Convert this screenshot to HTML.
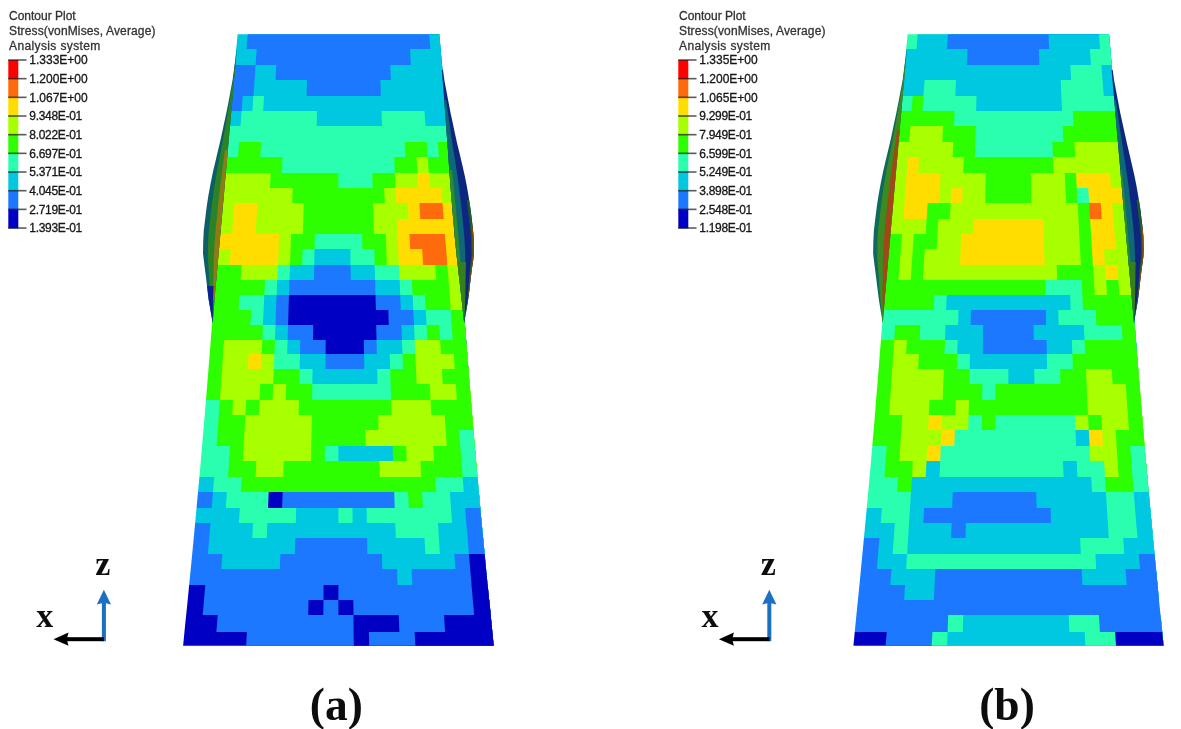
<!DOCTYPE html>
<html><head><meta charset="utf-8"><title>Contour Plot</title>
<style>
html,body{margin:0;padding:0;background:#fff;}
body{width:1181px;height:729px;overflow:hidden;position:relative;}
svg{position:absolute;left:0;top:0;}
.tt{font-family:"Liberation Sans",Arial,sans-serif;font-size:12px;fill:#333;stroke:#333;stroke-width:0.3px;}
.lg{font-family:"Liberation Sans",Arial,sans-serif;font-size:12px;fill:#151515;stroke:#151515;stroke-width:0.3px;}
.ax{font-family:"Liberation Serif","Times New Roman",serif;font-weight:bold;font-size:34px;fill:#111;}
.cap{font-family:"Liberation Serif","Times New Roman",serif;font-weight:bold;font-size:45.5px;fill:#111;}
polygon{stroke-width:0.6;stroke-linejoin:miter;}
.ns polygon,.ns path{stroke:none;}
</style></head><body>
<svg width="1181" height="729" viewBox="0 0 1181 729">
<defs><filter id="bl" x="-2%" y="-2%" width="104%" height="104%"><feGaussianBlur stdDeviation="0.6"/></filter></defs>
<g filter="url(#bl)">
<clipPath id="ca"><polygon points="237.6,34.2 235.8,54.6 234.0,75.0 232.1,95.3 230.3,115.7 228.5,136.1 226.7,156.5 224.9,176.9 223.0,197.3 221.2,217.6 219.4,238.0 217.6,258.4 215.8,278.8 213.9,299.2 212.3,319.6 210.8,339.9 209.2,360.3 207.5,380.7 205.9,401.1 204.2,421.5 202.4,441.9 200.7,462.2 198.9,482.6 197.0,503.0 195.1,523.4 193.2,543.8 191.2,564.2 189.2,584.6 187.2,604.9 185.1,625.3 183.1,645.7 493.7,645.7 491.7,625.3 489.7,604.9 487.6,584.6 485.6,564.2 483.7,543.8 481.7,523.4 479.8,503.0 478.0,482.6 476.2,462.2 474.4,441.9 472.7,421.5 471.0,401.1 469.3,380.7 467.7,360.3 466.1,339.9 464.5,319.6 462.9,299.2 461.1,278.8 459.3,258.4 457.5,238.0 455.7,217.6 453.8,197.3 452.0,176.9 450.2,156.5 448.4,136.1 446.6,115.7 444.8,95.3 442.9,75.0 441.1,54.6 439.3,34.2"/></clipPath><g class="ns" clip-path="url(#ca)"><polygon points="234.7,33.2 442.2,33.2 443.6,49 233.3,49" fill="#00c8e0"/>
<polygon points="247.8,33.2 442.2,33.2 443.6,49 246.5,49" fill="#1a78ff"/>
<polygon points="429.1,33.2 442.2,33.2 443.6,49 430.4,49" fill="#00c8e0"/>
<polygon points="233.3,49 443.6,49 445.0,65 231.8,65" fill="#00c8e0"/>
<polygon points="256.7,49 443.6,49 445.0,65 255.6,65" fill="#1a78ff"/>
<polygon points="410.0,49 443.6,49 445.0,65 410.9,65" fill="#00c8e0"/>
<polygon points="231.8,65 445.0,65 446.4,80 230.5,80" fill="#1a78ff"/>
<polygon points="255.6,65 445.0,65 446.4,80 254.6,80" fill="#00c8e0"/>
<polygon points="276.3,65 445.0,65 446.4,80 275.5,80" fill="#1a78ff"/>
<polygon points="390.2,65 445.0,65 446.4,80 390.9,80" fill="#00c8e0"/>
<polygon points="230.5,80 446.4,80 447.8,96 229.1,96" fill="#1a78ff"/>
<polygon points="254.6,80 446.4,80 447.8,96 253.4,96" fill="#00c8e0"/>
<polygon points="307.0,80 446.4,80 447.8,96 306.6,96" fill="#1a78ff"/>
<polygon points="380.4,80 446.4,80 447.8,96 380.9,96" fill="#00c8e0"/>
<polygon points="229.1,96 447.8,96 449.1,111 227.7,111" fill="#1a78ff"/>
<polygon points="242.8,96 447.8,96 449.1,111 241.6,111" fill="#00c8e0"/>
<polygon points="253.4,96 447.8,96 449.1,111 252.4,111" fill="#2bffb0"/>
<polygon points="264.1,96 447.8,96 449.1,111 263.1,111" fill="#00c8e0"/>
<polygon points="227.7,111 449.1,111 450.5,126 226.4,126" fill="#00c8e0"/>
<polygon points="241.6,111 449.1,111 450.5,126 240.5,126" fill="#2bffb0"/>
<polygon points="316.9,111 449.1,111 450.5,126 316.7,126" fill="#00c8e0"/>
<polygon points="381.5,111 449.1,111 450.5,126 382.0,126" fill="#2bffb0"/>
<polygon points="424.5,111 449.1,111 450.5,126 425.5,126" fill="#00c8e0"/>
<polygon points="226.4,126 450.5,126 451.9,142 225.0,142" fill="#2bffb0"/>
<polygon points="225.0,142 451.9,142 453.2,157 223.6,157" fill="#2bffb0"/>
<polygon points="239.2,142 451.9,142 453.2,157 238.0,157" fill="#2eff00"/>
<polygon points="261.2,142 451.9,142 453.2,157 260.3,157" fill="#2bffb0"/>
<polygon points="404.6,142 451.9,142 453.2,157 405.4,157" fill="#2eff00"/>
<polygon points="426.7,142 451.9,142 453.2,157 427.7,157" fill="#2bffb0"/>
<polygon points="437.7,142 451.9,142 453.2,157 438.9,157" fill="#2eff00"/>
<polygon points="223.6,157 453.2,157 454.7,173 222.2,173" fill="#2eff00"/>
<polygon points="282.6,157 453.2,157 454.7,173 281.9,173" fill="#2bffb0"/>
<polygon points="394.2,157 453.2,157 454.7,173 394.9,173" fill="#2eff00"/>
<polygon points="416.5,157 453.2,157 454.7,173 417.5,173" fill="#a8ff00"/>
<polygon points="427.7,157 453.2,157 454.7,173 428.8,173" fill="#2eff00"/>
<polygon points="222.2,173 454.7,173 456.0,188 220.9,188" fill="#a8ff00"/>
<polygon points="270.7,173 454.7,173 456.0,188 269.9,188" fill="#2eff00"/>
<polygon points="338.4,173 454.7,173 456.0,188 338.4,188" fill="#2bffb0"/>
<polygon points="372.3,173 454.7,173 456.0,188 372.7,188" fill="#2eff00"/>
<polygon points="394.9,173 454.7,173 456.0,188 395.6,188" fill="#a8ff00"/>
<polygon points="417.5,173 454.7,173 456.0,188 418.4,188" fill="#ffdd00"/>
<polygon points="428.8,173 454.7,173 456.0,188 429.9,188" fill="#a8ff00"/>
<polygon points="220.9,188 456.0,188 457.3,203 219.5,203" fill="#a8ff00"/>
<polygon points="292.7,188 456.0,188 457.3,203 292.2,203" fill="#2eff00"/>
<polygon points="384.2,188 456.0,188 457.3,203 384.7,203" fill="#a8ff00"/>
<polygon points="395.6,188 456.0,188 457.3,203 396.2,203" fill="#ffdd00"/>
<polygon points="441.3,188 456.0,188 457.3,203 442.5,203" fill="#a8ff00"/>
<polygon points="219.5,203 457.3,203 458.8,219 218.1,219" fill="#a8ff00"/>
<polygon points="234.4,203 457.3,203 458.8,219 233.1,219" fill="#ffdd00"/>
<polygon points="257.5,203 457.3,203 458.8,219 256.5,219" fill="#a8ff00"/>
<polygon points="303.8,203 457.3,203 458.8,219 303.3,219" fill="#2eff00"/>
<polygon points="373.1,203 457.3,203 458.8,219 373.5,219" fill="#a8ff00"/>
<polygon points="407.8,203 457.3,203 458.8,219 408.6,219" fill="#ffdd00"/>
<polygon points="419.4,203 457.3,203 458.8,219 420.3,219" fill="#ff6a08"/>
<polygon points="442.5,203 457.3,203 458.8,219 443.7,219" fill="#ffdd00"/>
<polygon points="218.1,219 458.8,219 460.1,234 216.8,234" fill="#a8ff00"/>
<polygon points="233.1,219 458.8,219 460.1,234 232.0,234" fill="#ffdd00"/>
<polygon points="256.5,219 458.8,219 460.1,234 255.6,234" fill="#a8ff00"/>
<polygon points="303.3,219 458.8,219 460.1,234 302.9,234" fill="#2eff00"/>
<polygon points="373.5,219 458.8,219 460.1,234 373.9,234" fill="#a8ff00"/>
<polygon points="396.9,219 458.8,219 460.1,234 397.6,234" fill="#ffdd00"/>
<polygon points="216.8,234 460.1,234 461.4,249 215.4,249" fill="#ffdd00"/>
<polygon points="279.3,234 460.1,234 461.4,249 278.6,249" fill="#a8ff00"/>
<polygon points="291.1,234 460.1,234 461.4,249 290.6,249" fill="#2eff00"/>
<polygon points="314.8,234 460.1,234 461.4,249 314.5,249" fill="#2bffb0"/>
<polygon points="362.1,234 460.1,234 461.4,249 362.4,249" fill="#2eff00"/>
<polygon points="385.7,234 460.1,234 461.4,249 386.3,249" fill="#a8ff00"/>
<polygon points="397.6,234 460.1,234 461.4,249 398.2,249" fill="#ffdd00"/>
<polygon points="409.4,234 460.1,234 461.4,249 410.2,249" fill="#ff6a08"/>
<polygon points="444.9,234 460.1,234 461.4,249 446.1,249" fill="#ffdd00"/>
<polygon points="215.4,249 461.4,249 462.9,265 214.0,265" fill="#a8ff00"/>
<polygon points="230.8,249 461.4,249 462.9,265 229.5,265" fill="#ffdd00"/>
<polygon points="278.6,249 461.4,249 462.9,265 277.9,265" fill="#a8ff00"/>
<polygon points="290.6,249 461.4,249 462.9,265 290.0,265" fill="#2eff00"/>
<polygon points="302.6,249 461.4,249 462.9,265 302.1,265" fill="#2bffb0"/>
<polygon points="314.5,249 461.4,249 462.9,265 314.2,265" fill="#00c8e0"/>
<polygon points="350.4,249 461.4,249 462.9,265 350.5,265" fill="#2bffb0"/>
<polygon points="374.3,249 461.4,249 462.9,265 374.7,265" fill="#2eff00"/>
<polygon points="386.3,249 461.4,249 462.9,265 386.8,265" fill="#a8ff00"/>
<polygon points="398.2,249 461.4,249 462.9,265 398.9,265" fill="#ffdd00"/>
<polygon points="422.1,249 461.4,249 462.9,265 423.1,265" fill="#ff6a08"/>
<polygon points="446.1,249 461.4,249 462.9,265 447.3,265" fill="#ffdd00"/>
<polygon points="214.0,265 462.9,265 464.2,280 212.7,280" fill="#2eff00"/>
<polygon points="241.6,265 462.9,265 464.2,280 240.6,280" fill="#a8ff00"/>
<polygon points="277.9,265 462.9,265 464.2,280 277.3,280" fill="#2bffb0"/>
<polygon points="290.0,265 462.9,265 464.2,280 289.5,280" fill="#00c8e0"/>
<polygon points="314.2,265 462.9,265 464.2,280 314.0,280" fill="#1a78ff"/>
<polygon points="350.5,265 462.9,265 464.2,280 350.7,280" fill="#00c8e0"/>
<polygon points="374.7,265 462.9,265 464.2,280 375.1,280" fill="#2bffb0"/>
<polygon points="398.9,265 462.9,265 464.2,280 399.6,280" fill="#a8ff00"/>
<polygon points="435.2,265 462.9,265 464.2,280 436.3,280" fill="#2eff00"/>
<polygon points="447.3,265 462.9,265 464.2,280 448.5,280" fill="#a8ff00"/>
<polygon points="212.7,280 464.2,280 465.5,295 211.3,295" fill="#2eff00"/>
<polygon points="265.1,280 464.2,280 465.5,295 264.3,295" fill="#2bffb0"/>
<polygon points="277.3,280 464.2,280 465.5,295 276.6,295" fill="#00c8e0"/>
<polygon points="289.5,280 464.2,280 465.5,295 289.0,295" fill="#1a78ff"/>
<polygon points="375.1,280 464.2,280 465.5,295 375.5,295" fill="#00c8e0"/>
<polygon points="399.6,280 464.2,280 465.5,295 400.2,295" fill="#2bffb0"/>
<polygon points="411.8,280 464.2,280 465.5,295 412.6,295" fill="#2eff00"/>
<polygon points="448.5,280 464.2,280 465.5,295 449.7,295" fill="#a8ff00"/>
<polygon points="211.3,295 465.5,295 466.8,310 210.1,310" fill="#2eff00"/>
<polygon points="239.6,295 465.5,295 466.8,310 238.6,310" fill="#2bffb0"/>
<polygon points="264.3,295 465.5,295 466.8,310 263.6,310" fill="#00c8e0"/>
<polygon points="276.6,295 465.5,295 466.8,310 276.0,310" fill="#1a78ff"/>
<polygon points="289.0,295 465.5,295 466.8,310 288.5,310" fill="#0000c4"/>
<polygon points="375.5,295 465.5,295 466.8,310 375.9,310" fill="#1a78ff"/>
<polygon points="400.2,295 465.5,295 466.8,310 400.8,310" fill="#00c8e0"/>
<polygon points="412.6,295 465.5,295 466.8,310 413.3,310" fill="#2bffb0"/>
<polygon points="424.9,295 465.5,295 466.8,310 425.8,310" fill="#2eff00"/>
<polygon points="449.7,295 465.5,295 466.8,310 450.7,310" fill="#a8ff00"/>
<polygon points="210.1,310 466.8,310 467.9,325 208.9,325" fill="#2eff00"/>
<polygon points="251.1,310 466.8,310 467.9,325 250.3,325" fill="#2bffb0"/>
<polygon points="263.6,310 466.8,310 467.9,325 262.9,325" fill="#00c8e0"/>
<polygon points="276.0,310 466.8,310 467.9,325 275.5,325" fill="#1a78ff"/>
<polygon points="288.5,310 466.8,310 467.9,325 288.1,325" fill="#0000c4"/>
<polygon points="388.3,310 466.8,310 467.9,325 388.8,325" fill="#1a78ff"/>
<polygon points="413.3,310 466.8,310 467.9,325 414.0,325" fill="#00c8e0"/>
<polygon points="425.8,310 466.8,310 467.9,325 426.6,325" fill="#2bffb0"/>
<polygon points="450.7,310 466.8,310 467.9,325 451.7,325" fill="#2eff00"/>
<polygon points="208.9,325 467.9,325 469.1,340 207.8,340" fill="#2eff00"/>
<polygon points="262.9,325 467.9,325 469.1,340 262.2,340" fill="#2bffb0"/>
<polygon points="275.5,325 467.9,325 469.1,340 274.9,340" fill="#00c8e0"/>
<polygon points="288.1,325 467.9,325 469.1,340 287.6,340" fill="#1a78ff"/>
<polygon points="313.2,325 467.9,325 469.1,340 313.0,340" fill="#0000c4"/>
<polygon points="376.2,325 467.9,325 469.1,340 376.5,340" fill="#1a78ff"/>
<polygon points="401.4,325 467.9,325 469.1,340 401.9,340" fill="#00c8e0"/>
<polygon points="414.0,325 467.9,325 469.1,340 414.6,340" fill="#2bffb0"/>
<polygon points="426.6,325 467.9,325 469.1,340 427.4,340" fill="#2eff00"/>
<polygon points="439.2,325 467.9,325 469.1,340 440.1,340" fill="#2bffb0"/>
<polygon points="451.7,325 467.9,325 469.1,340 452.8,340" fill="#2eff00"/>
<polygon points="207.8,340 469.1,340 470.2,354 206.7,354" fill="#2eff00"/>
<polygon points="224.1,340 469.1,340 470.2,354 223.1,354" fill="#a8ff00"/>
<polygon points="262.2,340 469.1,340 470.2,354 261.6,354" fill="#2eff00"/>
<polygon points="274.9,340 469.1,340 470.2,354 274.4,354" fill="#2bffb0"/>
<polygon points="287.6,340 469.1,340 470.2,354 287.2,354" fill="#00c8e0"/>
<polygon points="300.3,340 469.1,340 470.2,354 300.0,354" fill="#1a78ff"/>
<polygon points="325.7,340 469.1,340 470.2,354 325.6,354" fill="#0000c4"/>
<polygon points="363.8,340 469.1,340 470.2,354 364.0,354" fill="#1a78ff"/>
<polygon points="376.5,340 469.1,340 470.2,354 376.9,354" fill="#00c8e0"/>
<polygon points="401.9,340 469.1,340 470.2,354 402.5,354" fill="#2bffb0"/>
<polygon points="414.6,340 469.1,340 470.2,354 415.3,354" fill="#a8ff00"/>
<polygon points="440.1,340 469.1,340 470.2,354 440.9,354" fill="#2eff00"/>
<polygon points="206.7,354 470.2,354 471.4,369 205.5,369" fill="#2eff00"/>
<polygon points="223.1,354 470.2,354 471.4,369 222.1,369" fill="#a8ff00"/>
<polygon points="248.7,354 470.2,354 471.4,369 247.9,369" fill="#ffdd00"/>
<polygon points="261.6,354 470.2,354 471.4,369 260.9,369" fill="#a8ff00"/>
<polygon points="274.4,354 470.2,354 471.4,369 273.8,369" fill="#2bffb0"/>
<polygon points="300.0,354 470.2,354 471.4,369 299.6,369" fill="#00c8e0"/>
<polygon points="325.6,354 470.2,354 471.4,369 325.5,369" fill="#1a78ff"/>
<polygon points="364.0,354 470.2,354 471.4,369 364.3,369" fill="#00c8e0"/>
<polygon points="389.7,354 470.2,354 471.4,369 390.1,369" fill="#2bffb0"/>
<polygon points="402.5,354 470.2,354 471.4,369 403.1,369" fill="#2eff00"/>
<polygon points="415.3,354 470.2,354 471.4,369 416.0,369" fill="#a8ff00"/>
<polygon points="453.7,354 470.2,354 471.4,369 454.8,369" fill="#2eff00"/>
<polygon points="205.5,369 471.4,369 472.6,384 204.3,384" fill="#2eff00"/>
<polygon points="222.1,369 471.4,369 472.6,384 221.0,384" fill="#a8ff00"/>
<polygon points="273.8,369 471.4,369 472.6,384 273.2,384" fill="#2eff00"/>
<polygon points="299.6,369 471.4,369 472.6,384 299.3,384" fill="#2bffb0"/>
<polygon points="312.6,369 471.4,369 472.6,384 312.3,384" fill="#00c8e0"/>
<polygon points="377.2,369 471.4,369 472.6,384 377.5,384" fill="#2bffb0"/>
<polygon points="390.1,369 471.4,369 472.6,384 390.6,384" fill="#2eff00"/>
<polygon points="416.0,369 471.4,369 472.6,384 416.7,384" fill="#a8ff00"/>
<polygon points="441.8,369 471.4,369 472.6,384 442.8,384" fill="#2eff00"/>
<polygon points="204.3,384 472.6,384 473.9,400 203.0,400" fill="#2eff00"/>
<polygon points="221.0,384 472.6,384 473.9,400 219.9,400" fill="#a8ff00"/>
<polygon points="260.2,384 472.6,384 473.9,400 259.4,400" fill="#2eff00"/>
<polygon points="273.2,384 472.6,384 473.9,400 272.6,400" fill="#a8ff00"/>
<polygon points="286.3,384 472.6,384 473.9,400 285.7,400" fill="#2eff00"/>
<polygon points="312.3,384 472.6,384 473.9,400 312.1,400" fill="#2bffb0"/>
<polygon points="390.6,384 472.6,384 473.9,400 391.1,400" fill="#2eff00"/>
<polygon points="429.7,384 472.6,384 473.9,400 430.6,400" fill="#a8ff00"/>
<polygon points="455.8,384 472.6,384 473.9,400 456.9,400" fill="#2eff00"/>
<polygon points="203.0,400 473.9,400 475.1,415 201.7,415" fill="#2bffb0"/>
<polygon points="219.9,400 473.9,400 475.1,415 218.8,415" fill="#2eff00"/>
<polygon points="233.1,400 473.9,400 475.1,415 232.1,415" fill="#a8ff00"/>
<polygon points="246.2,400 473.9,400 475.1,415 245.4,415" fill="#2eff00"/>
<polygon points="259.4,400 473.9,400 475.1,415 258.7,415" fill="#a8ff00"/>
<polygon points="298.9,400 473.9,400 475.1,415 298.6,415" fill="#2eff00"/>
<polygon points="391.1,400 473.9,400 475.1,415 391.6,415" fill="#a8ff00"/>
<polygon points="430.6,400 473.9,400 475.1,415 431.4,415" fill="#2eff00"/>
<polygon points="201.7,415 475.1,415 476.4,430 200.5,430" fill="#2bffb0"/>
<polygon points="218.8,415 475.1,415 476.4,430 217.7,430" fill="#2eff00"/>
<polygon points="245.4,415 475.1,415 476.4,430 244.5,430" fill="#a8ff00"/>
<polygon points="311.8,415 475.1,415 476.4,430 311.6,430" fill="#2eff00"/>
<polygon points="378.3,415 475.1,415 476.4,430 378.6,430" fill="#a8ff00"/>
<polygon points="444.7,415 475.1,415 476.4,430 445.7,430" fill="#2eff00"/>
<polygon points="200.5,430 476.4,430 477.7,446 199.1,446" fill="#2bffb0"/>
<polygon points="217.7,430 476.4,430 477.7,446 216.5,446" fill="#2eff00"/>
<polygon points="244.5,430 476.4,430 477.7,446 243.6,446" fill="#a8ff00"/>
<polygon points="311.6,430 476.4,430 477.7,446 311.3,446" fill="#2eff00"/>
<polygon points="365.2,430 476.4,430 477.7,446 365.5,446" fill="#a8ff00"/>
<polygon points="445.7,430 476.4,430 477.7,446 446.8,446" fill="#2eff00"/>
<polygon points="459.1,430 476.4,430 477.7,446 460.3,446" fill="#2bffb0"/>
<polygon points="199.1,446 477.7,446 479.0,461 197.8,461" fill="#2bffb0"/>
<polygon points="230.1,446 477.7,446 479.0,461 229.1,461" fill="#2eff00"/>
<polygon points="243.6,446 477.7,446 479.0,461 242.7,461" fill="#a8ff00"/>
<polygon points="311.3,446 477.7,446 479.0,461 311.1,461" fill="#2eff00"/>
<polygon points="324.9,446 477.7,446 479.0,461 324.7,461" fill="#2bffb0"/>
<polygon points="338.4,446 477.7,446 479.0,461 338.4,461" fill="#00c8e0"/>
<polygon points="392.6,446 477.7,446 479.0,461 393.1,461" fill="#2eff00"/>
<polygon points="406.1,446 477.7,446 479.0,461 406.8,461" fill="#a8ff00"/>
<polygon points="433.2,446 477.7,446 479.0,461 434.1,461" fill="#2eff00"/>
<polygon points="460.3,446 477.7,446 479.0,461 461.4,461" fill="#2bffb0"/>
<polygon points="197.8,461 479.0,461 480.5,477 196.4,477" fill="#2bffb0"/>
<polygon points="229.1,461 479.0,461 480.5,477 228.0,477" fill="#2eff00"/>
<polygon points="256.4,461 479.0,461 480.5,477 255.6,477" fill="#a8ff00"/>
<polygon points="283.7,461 479.0,461 480.5,477 283.2,477" fill="#2eff00"/>
<polygon points="379.4,461 479.0,461 480.5,477 379.8,477" fill="#a8ff00"/>
<polygon points="420.4,461 479.0,461 480.5,477 421.2,477" fill="#2eff00"/>
<polygon points="461.4,461 479.0,461 480.5,477 462.7,477" fill="#2bffb0"/>
<polygon points="196.4,477 480.5,477 481.8,492 195.0,492" fill="#00c8e0"/>
<polygon points="214.2,477 480.5,477 481.8,492 213.0,492" fill="#2bffb0"/>
<polygon points="241.8,477 480.5,477 481.8,492 240.9,492" fill="#2eff00"/>
<polygon points="435.1,477 480.5,477 481.8,492 436.0,492" fill="#2bffb0"/>
<polygon points="462.7,477 480.5,477 481.8,492 463.8,492" fill="#00c8e0"/>
<polygon points="195.0,492 481.8,492 483.3,508 193.5,508" fill="#1a78ff"/>
<polygon points="213.0,492 481.8,492 483.3,508 211.7,508" fill="#00c8e0"/>
<polygon points="226.9,492 481.8,492 483.3,508 225.8,508" fill="#2bffb0"/>
<polygon points="268.7,492 481.8,492 483.3,508 268.0,508" fill="#0000c4"/>
<polygon points="282.7,492 481.8,492 483.3,508 282.1,508" fill="#1a78ff"/>
<polygon points="394.2,492 481.8,492 483.3,508 394.7,508" fill="#2bffb0"/>
<polygon points="408.1,492 481.8,492 483.3,508 408.8,508" fill="#2eff00"/>
<polygon points="422.0,492 481.8,492 483.3,508 422.9,508" fill="#2bffb0"/>
<polygon points="449.9,492 481.8,492 483.3,508 451.0,508" fill="#00c8e0"/>
<polygon points="193.5,508 483.3,508 484.7,523 192.1,523" fill="#00c8e0"/>
<polygon points="239.9,508 483.3,508 484.7,523 238.9,523" fill="#2bffb0"/>
<polygon points="296.2,508 483.3,508 484.7,523 295.8,523" fill="#00c8e0"/>
<polygon points="338.4,508 483.3,508 484.7,523 338.4,523" fill="#2bffb0"/>
<polygon points="352.5,508 483.3,508 484.7,523 352.6,523" fill="#00c8e0"/>
<polygon points="366.6,508 483.3,508 484.7,523 366.8,523" fill="#2bffb0"/>
<polygon points="451.0,508 483.3,508 484.7,523 452.1,523" fill="#00c8e0"/>
<polygon points="465.1,508 483.3,508 484.7,523 466.3,523" fill="#1a78ff"/>
<polygon points="192.1,523 484.7,523 486.1,538 190.7,538" fill="#1a78ff"/>
<polygon points="210.5,523 484.7,523 486.1,538 209.2,538" fill="#00c8e0"/>
<polygon points="253.1,523 484.7,523 486.1,538 252.3,538" fill="#2bffb0"/>
<polygon points="267.3,523 484.7,523 486.1,538 266.7,538" fill="#00c8e0"/>
<polygon points="395.3,523 484.7,523 486.1,538 395.8,538" fill="#2bffb0"/>
<polygon points="437.9,523 484.7,523 486.1,538 438.9,538" fill="#00c8e0"/>
<polygon points="466.3,523 484.7,523 486.1,538 467.6,538" fill="#1a78ff"/>
<polygon points="190.7,538 486.1,538 487.6,554 189.2,554" fill="#1a78ff"/>
<polygon points="209.2,538 486.1,538 487.6,554 207.9,554" fill="#00c8e0"/>
<polygon points="295.4,538 486.1,538 487.6,554 294.9,554" fill="#1a78ff"/>
<polygon points="367.1,538 486.1,538 487.6,554 367.4,554" fill="#00c8e0"/>
<polygon points="424.5,538 486.1,538 487.6,554 425.4,554" fill="#2bffb0"/>
<polygon points="438.9,538 486.1,538 487.6,554 439.9,554" fill="#00c8e0"/>
<polygon points="467.6,538 486.1,538 487.6,554 468.9,554" fill="#1a78ff"/>
<polygon points="189.2,554 487.6,554 489.1,569 187.7,569" fill="#1a78ff"/>
<polygon points="222.4,554 487.6,554 489.1,569 221.3,569" fill="#00c8e0"/>
<polygon points="280.4,554 487.6,554 489.1,569 279.8,569" fill="#1a78ff"/>
<polygon points="381.9,554 487.6,554 489.1,569 382.3,569" fill="#00c8e0"/>
<polygon points="454.4,554 487.6,554 489.1,569 455.5,569" fill="#1a78ff"/>
<polygon points="468.9,554 487.6,554 489.1,569 470.2,569" fill="#0000c4"/>
<polygon points="187.7,569 489.1,569 490.7,585 186.1,585" fill="#1a78ff"/>
<polygon points="397.0,569 489.1,569 490.7,585 397.6,585" fill="#00c8e0"/>
<polygon points="411.6,569 489.1,569 490.7,585 412.4,585" fill="#1a78ff"/>
<polygon points="470.2,569 489.1,569 490.7,585 471.5,585" fill="#0000c4"/>
<polygon points="186.1,585 490.7,585 492.2,600 184.6,600" fill="#0000c4"/>
<polygon points="205.3,585 490.7,585 492.2,600 204.0,600" fill="#1a78ff"/>
<polygon points="323.6,585 490.7,585 492.2,600 323.5,600" fill="#0000c4"/>
<polygon points="338.4,585 490.7,585 492.2,600 338.4,600" fill="#1a78ff"/>
<polygon points="471.5,585 490.7,585 492.2,600 472.8,600" fill="#0000c4"/>
<polygon points="184.6,600 492.2,600 493.7,615 183.1,615" fill="#0000c4"/>
<polygon points="204.0,600 492.2,600 493.7,615 202.7,615" fill="#1a78ff"/>
<polygon points="308.5,600 492.2,600 493.7,615 308.2,615" fill="#0000c4"/>
<polygon points="323.5,600 492.2,600 493.7,615 323.3,615" fill="#1a78ff"/>
<polygon points="338.4,600 492.2,600 493.7,615 338.4,615" fill="#0000c4"/>
<polygon points="353.3,600 492.2,600 493.7,615 353.5,615" fill="#1a78ff"/>
<polygon points="472.8,600 492.2,600 493.7,615 474.1,615" fill="#0000c4"/>
<polygon points="183.1,615 493.7,615 495.4,632 181.4,632" fill="#0000c4"/>
<polygon points="217.7,615 493.7,615 495.4,632 216.4,632" fill="#1a78ff"/>
<polygon points="353.5,615 493.7,615 495.4,632 353.6,632" fill="#0000c4"/>
<polygon points="398.7,615 493.7,615 495.4,632 399.4,632" fill="#1a78ff"/>
<polygon points="444.0,615 493.7,615 495.4,632 445.1,632" fill="#0000c4"/>
<polygon points="181.4,632 495.4,632 496.9,646.7 179.9,646.7" fill="#0000c4"/>
<polygon points="246.9,632 495.4,632 496.9,646.7 246.1,646.7" fill="#1a78ff"/>
<polygon points="353.6,632 495.4,632 496.9,646.7 353.8,646.7" fill="#0000c4"/>
<polygon points="368.9,632 495.4,632 496.9,646.7 369.2,646.7" fill="#1a78ff"/>
<polygon points="414.6,632 495.4,632 496.9,646.7 415.4,646.7" fill="#0000c4"/></g>
<g class="ns"><polygon points="237.2,45.0 236.2,56.6 235.2,68.2 234.1,79.8 233.1,91.3 232.1,102.9 231.0,114.5 230.0,126.1 229.0,137.7 227.9,149.2 226.9,160.8 225.9,172.4 224.8,184.0 223.8,195.6 222.8,207.2 221.7,218.8 220.7,230.3 219.7,241.9 218.6,253.5 217.6,265.1 216.6,276.7 215.5,288.2 214.5,299.8 213.6,311.4 212.7,323.0 212.7,323.0 210.7,311.4 208.7,299.8 207.3,288.2 205.9,276.7 204.4,265.1 203.0,253.5 203.2,241.9 203.8,230.3 205.2,218.8 206.6,207.2 208.4,195.6 210.5,184.0 212.8,172.4 215.6,160.8 218.3,149.2 221.0,137.7 223.5,126.1 226.0,114.5 228.3,102.9 230.5,91.3 232.6,79.8 234.2,68.2 235.7,56.6 237.2,45.0" fill="#0d5f66" opacity="1"/>
<polygon points="235.9,60.0 234.9,71.0 233.9,81.9 233.0,92.9 232.0,103.8 231.0,114.8 230.0,125.8 229.0,136.7 228.1,147.7 227.1,158.6 226.1,169.6 225.1,180.5 224.2,191.5 223.2,202.5 222.2,213.4 221.2,224.4 220.2,235.3 219.3,246.3 218.3,257.2 217.3,268.2 216.3,279.2 215.3,290.1 214.4,301.1 213.5,312.0 212.7,323.0 212.7,323.0 211.6,312.0 210.6,301.1 209.9,290.1 209.3,279.2 208.6,268.2 207.8,257.2 208.0,246.3 208.4,235.3 209.5,224.4 210.7,213.4 212.1,202.5 213.6,191.5 215.4,180.5 217.3,169.6 219.4,158.6 221.5,147.7 223.6,136.7 225.5,125.8 227.4,114.8 229.3,103.8 231.0,92.9 232.8,81.9 234.1,71.0 235.4,60.0" fill="#2a8426" opacity="1"/>
<polygon points="227.9,150.0 227.3,156.2 226.7,162.5 226.2,168.8 225.6,175.0 225.1,181.2 224.5,187.5 224.0,193.8 223.4,200.0 222.8,206.2 222.3,212.5 221.7,218.8 221.2,225.0 220.6,231.2 220.0,237.5 219.5,243.8 218.9,250.0 218.4,256.2 217.8,262.5 217.3,268.8 216.7,275.0 216.1,281.2 215.6,287.5 215.0,293.8 214.5,300.0 212.8,300.0 212.9,293.8 213.1,287.5 213.2,281.2 213.4,275.0 213.6,268.8 213.7,262.5 213.8,256.2 214.2,250.0 214.6,243.8 215.0,237.5 215.5,231.2 216.1,225.0 216.8,218.8 217.4,212.5 218.0,206.2 218.7,200.0 219.4,193.8 220.1,187.5 220.9,181.2 221.6,175.0 222.4,168.8 223.3,162.5 224.1,156.2 225.0,150.0" fill="#8e7a12" opacity="1"/>
<polygon points="213.5,286.0 213.5,287.5 213.4,289.1 213.4,290.6 213.3,292.2 213.3,293.7 213.2,295.2 213.1,296.8 213.1,298.3 213.0,299.9 213.0,301.4 213.0,303.0 213.0,304.5 212.9,306.0 212.9,307.6 212.9,309.1 212.9,310.7 212.9,312.2 212.8,313.8 212.8,315.3 212.8,316.8 212.8,318.4 212.7,319.9 212.7,321.5 212.7,323.0 212.7,323.0 212.4,321.5 212.2,319.9 211.9,318.4 211.6,316.8 211.4,315.3 211.1,313.8 210.8,312.2 210.6,310.7 210.3,309.1 210.1,307.6 209.8,306.0 209.5,304.5 209.3,303.0 209.0,301.4 208.7,299.9 208.5,298.3 208.3,296.8 208.1,295.2 207.9,293.7 207.8,292.2 207.6,290.6 207.4,289.1 207.2,287.5 207.0,286.0" fill="#0b2390" opacity="1"/>
<polygon points="441.8,70.0 442.6,80.5 443.5,91.1 444.3,101.6 445.1,112.2 445.9,122.7 446.6,133.2 447.4,143.8 448.2,154.3 448.9,164.9 449.7,175.4 450.5,186.0 451.3,196.5 452.2,207.0 453.1,217.6 454.0,228.1 454.9,238.7 456.0,249.2 457.1,259.8 458.3,270.3 459.5,280.8 460.7,291.4 461.9,301.9 463.0,312.5 464.2,323.0 464.2,323.0 466.0,312.5 467.8,301.9 469.2,291.4 470.4,280.8 471.7,270.3 473.2,259.8 473.8,249.2 473.6,238.7 472.8,228.1 471.6,217.6 470.2,207.0 468.6,196.5 466.8,186.0 464.7,175.4 462.3,164.9 459.8,154.3 457.2,143.8 454.9,133.2 452.7,122.7 450.4,112.2 448.4,101.6 446.4,91.1 444.4,80.5 443.0,70.0" fill="#0b2680" opacity="1"/>
<polygon points="466.6,200.0 467.4,205.1 468.1,210.2 468.7,215.4 469.2,220.5 469.8,225.6 470.4,230.8 470.9,235.9 471.0,241.0 471.2,246.1 471.3,251.2 471.3,256.4 470.7,261.5 470.2,266.6 469.7,271.8 469.2,276.9 468.8,282.0 468.3,287.1 467.9,292.2 467.5,297.4 466.9,302.5 466.2,307.6 465.5,312.8 464.8,317.9 464.2,323.0 464.2,323.0 465.0,317.9 465.9,312.8 466.8,307.6 467.7,302.5 468.5,297.4 469.1,292.2 469.7,287.1 470.3,282.0 470.9,276.9 471.5,271.8 472.2,266.6 473.0,261.5 473.7,256.4 473.8,251.2 473.8,246.1 473.7,241.0 473.6,235.9 473.1,230.8 472.5,225.6 471.9,220.5 471.3,215.4 470.7,210.2 469.9,205.1 469.1,200.0" fill="#1f5a2a" opacity="1"/>
<polygon points="444.1,100.0 444.9,109.3 445.6,118.6 446.2,127.9 446.9,137.2 447.6,146.5 448.3,155.8 448.9,165.0 449.6,174.3 450.3,183.6 451.0,192.9 451.8,202.2 452.5,211.5 453.3,220.8 454.1,230.1 455.0,239.4 455.9,248.7 456.9,258.0 458.0,267.2 459.0,276.5 460.1,285.8 461.1,295.1 462.2,304.4 463.2,313.7 464.2,323.0 464.2,323.0 464.5,313.7 464.8,304.4 465.0,295.1 465.1,285.8 465.1,276.5 465.2,267.2 465.3,258.0 465.0,248.7 464.5,239.4 463.7,230.1 462.8,220.8 461.9,211.5 460.8,202.2 459.7,192.9 458.4,183.6 457.2,174.3 455.7,165.0 454.3,155.8 452.8,146.5 451.4,137.2 450.1,127.9 448.7,118.6 447.4,109.3 446.1,100.0" fill="#0e6878" opacity="1"/>
<polygon points="449.3,170.0 449.8,176.4 450.2,182.8 450.7,189.1 451.2,195.5 451.8,201.9 452.3,208.2 452.8,214.6 453.4,221.0 453.9,227.4 454.4,233.8 455.1,240.1 455.7,246.5 456.3,252.9 457.0,259.2 457.8,265.6 458.5,272.0 459.2,278.4 460.0,284.8 460.7,291.1 461.4,297.5 462.1,303.9 462.8,310.2 463.5,316.6 464.2,323.0 464.2,323.0 463.8,316.6 463.5,310.2 463.2,303.9 462.8,297.5 462.4,291.1 461.9,284.8 461.5,278.4 461.1,272.0 460.6,265.6 460.2,259.2 459.8,252.9 459.2,246.5 458.7,240.1 458.2,233.8 457.6,227.4 457.0,221.0 456.4,214.6 455.8,208.2 455.2,201.9 454.6,195.5 454.0,189.1 453.4,182.8 452.7,176.4 452.1,170.0" fill="#2d8c2a" opacity="1"/>
<polygon points="457.3,262.0 457.6,264.5 457.9,267.1 458.2,269.6 458.5,272.2 458.8,274.7 459.1,277.2 459.4,279.8 459.7,282.3 460.0,284.9 460.3,287.4 460.6,290.0 460.8,292.5 461.1,295.0 461.4,297.6 461.7,300.1 462.0,302.7 462.3,305.2 462.5,307.8 462.8,310.3 463.1,312.8 463.4,315.4 463.6,317.9 463.9,320.5 464.2,323.0 464.2,323.0 464.3,320.5 464.4,317.9 464.5,315.4 464.6,312.8 464.8,310.3 464.9,307.8 465.0,305.2 465.1,302.7 465.2,300.1 465.3,297.6 465.4,295.0 465.4,292.5 465.4,290.0 465.5,287.4 465.5,284.9 465.5,282.3 465.6,279.8 465.6,277.2 465.7,274.7 465.7,272.2 465.7,269.6 465.8,267.1 465.9,264.5 465.9,262.0" fill="#35801f" opacity="1"/>
<polygon points="471.1,225.0 471.4,227.9 471.8,230.8 472.1,233.8 472.3,236.7 472.3,239.6 472.4,242.5 472.4,245.4 472.5,248.3 472.6,251.2 472.6,254.2 472.4,257.1 472.0,260.0 471.7,262.9 471.3,265.8 470.9,268.8 470.6,271.7 470.3,274.6 470.0,277.5 469.7,280.4 469.4,283.3 469.1,286.2 468.8,289.2 468.5,292.1 468.2,295.0 468.8,295.0 469.1,292.1 469.5,289.2 469.8,286.2 470.1,283.3 470.5,280.4 470.8,277.5 471.2,274.6 471.5,271.7 471.9,268.8 472.3,265.8 472.8,262.9 473.2,260.0 473.6,257.1 473.9,254.2 473.8,251.2 473.8,248.3 473.7,245.4 473.7,242.5 473.7,239.6 473.6,236.7 473.4,233.8 473.1,230.8 472.8,227.9 472.4,225.0" fill="#8a4a10" opacity="1"/></g>
<clipPath id="cb"><polygon points="907.6,34.2 905.8,54.6 904.0,75.0 902.2,95.3 900.4,115.7 898.5,136.1 896.7,156.5 894.9,176.9 893.1,197.3 891.3,217.6 889.5,238.0 887.7,258.4 885.9,278.8 884.1,299.2 882.5,319.6 880.9,339.9 879.3,360.3 877.7,380.7 876.0,401.1 874.4,421.5 872.6,441.9 870.9,462.2 869.1,482.6 867.2,503.0 865.3,523.4 863.4,543.8 861.4,564.2 859.5,584.6 857.4,604.9 855.4,625.3 853.4,645.7 1163.6,645.7 1161.6,625.3 1159.5,604.9 1157.5,584.6 1155.5,564.2 1153.5,543.8 1151.6,523.4 1149.7,503.0 1147.8,482.6 1146.0,462.2 1144.2,441.9 1142.5,421.5 1140.8,401.1 1139.1,380.7 1137.5,360.3 1135.9,339.9 1134.3,319.6 1132.7,299.2 1130.9,278.8 1129.1,258.4 1127.2,238.0 1125.4,217.6 1123.6,197.3 1121.8,176.9 1119.9,156.5 1118.1,136.1 1116.3,115.7 1114.5,95.3 1112.6,75.0 1110.8,54.6 1109.0,34.2"/></clipPath><g class="ns" clip-path="url(#cb)"><polygon points="904.7,33.2 1111.9,33.2 1113.3,49 903.3,49" fill="#2bffb0"/>
<polygon points="917.7,33.2 1111.9,33.2 1113.3,49 916.5,49" fill="#00c8e0"/>
<polygon points="947.9,33.2 1111.9,33.2 1113.3,49 947.1,49" fill="#1a78ff"/>
<polygon points="1048.5,33.2 1111.9,33.2 1113.3,49 1049.1,49" fill="#00c8e0"/>
<polygon points="1098.9,33.2 1111.9,33.2 1113.3,49 1100.1,49" fill="#2bffb0"/>
<polygon points="903.3,49 1113.3,49 1114.8,65 901.9,65" fill="#00c8e0"/>
<polygon points="967.5,49 1113.3,49 1114.8,65 967.0,65" fill="#1a78ff"/>
<polygon points="1038.9,49 1113.3,49 1114.8,65 1039.3,65" fill="#00c8e0"/>
<polygon points="1089.9,49 1113.3,49 1114.8,65 1091.0,65" fill="#2bffb0"/>
<polygon points="901.9,65 1114.8,65 1116.1,80 900.5,80" fill="#00c8e0"/>
<polygon points="1070.3,65 1114.8,65 1116.1,80 1071.1,80" fill="#2bffb0"/>
<polygon points="1101.4,65 1114.8,65 1116.1,80 1102.5,80" fill="#00c8e0"/>
<polygon points="900.5,80 1116.1,80 1117.5,96 899.1,96" fill="#00c8e0"/>
<polygon points="924.6,80 1116.1,80 1117.5,96 923.4,96" fill="#2bffb0"/>
<polygon points="956.0,80 1116.1,80 1117.5,96 955.3,96" fill="#00c8e0"/>
<polygon points="1060.7,80 1116.1,80 1117.5,96 1061.4,96" fill="#2bffb0"/>
<polygon points="1102.5,80 1116.1,80 1117.5,96 1103.8,96" fill="#00c8e0"/>
<polygon points="899.1,96 1117.5,96 1118.9,111 897.8,111" fill="#2bffb0"/>
<polygon points="912.8,96 1117.5,96 1118.9,111 911.7,111" fill="#2eff00"/>
<polygon points="923.4,96 1117.5,96 1118.9,111 922.4,111" fill="#2bffb0"/>
<polygon points="976.5,96 1117.5,96 1118.9,111 976.1,111" fill="#00c8e0"/>
<polygon points="1061.4,96 1117.5,96 1118.9,111 1062.0,111" fill="#2bffb0"/>
<polygon points="897.8,111 1118.9,111 1120.2,126 896.4,126" fill="#2eff00"/>
<polygon points="954.6,111 1118.9,111 1120.2,126 954.0,126" fill="#2bffb0"/>
<polygon points="1072.8,111 1118.9,111 1120.2,126 1073.6,126" fill="#2eff00"/>
<polygon points="896.4,126 1120.2,126 1121.6,142 895.0,142" fill="#2eff00"/>
<polygon points="910.5,126 1120.2,126 1121.6,142 909.2,142" fill="#a8ff00"/>
<polygon points="943.1,126 1120.2,126 1121.6,142 942.3,142" fill="#2eff00"/>
<polygon points="975.7,126 1120.2,126 1121.6,142 975.3,142" fill="#2bffb0"/>
<polygon points="1062.7,126 1120.2,126 1121.6,142 1063.4,142" fill="#2eff00"/>
<polygon points="895.0,142 1121.6,142 1123.0,157 893.7,157" fill="#a8ff00"/>
<polygon points="953.3,142 1121.6,142 1123.0,157 952.6,157" fill="#2eff00"/>
<polygon points="975.3,142 1121.6,142 1123.0,157 974.9,157" fill="#2bffb0"/>
<polygon points="1052.4,142 1121.6,142 1123.0,157 1052.9,157" fill="#2eff00"/>
<polygon points="1074.4,142 1121.6,142 1123.0,157 1075.2,157" fill="#a8ff00"/>
<polygon points="893.7,157 1123.0,157 1124.4,173 892.3,173" fill="#a8ff00"/>
<polygon points="908.1,157 1123.0,157 1124.4,173 906.8,173" fill="#ffdd00"/>
<polygon points="919.2,157 1123.0,157 1124.4,173 918.1,173" fill="#a8ff00"/>
<polygon points="963.8,157 1123.0,157 1124.4,173 963.2,173" fill="#2eff00"/>
<polygon points="1052.9,157 1123.0,157 1124.4,173 1053.5,173" fill="#a8ff00"/>
<polygon points="892.3,173 1124.4,173 1125.8,188 890.9,188" fill="#a8ff00"/>
<polygon points="906.8,173 1124.4,173 1125.8,188 905.6,188" fill="#ffdd00"/>
<polygon points="940.7,173 1124.4,173 1125.8,188 939.9,188" fill="#a8ff00"/>
<polygon points="985.8,173 1124.4,173 1125.8,188 985.5,188" fill="#2eff00"/>
<polygon points="1030.9,173 1124.4,173 1125.8,188 1031.2,188" fill="#a8ff00"/>
<polygon points="1064.8,173 1124.4,173 1125.8,188 1065.4,188" fill="#2eff00"/>
<polygon points="1076.0,173 1124.4,173 1125.8,188 1076.8,188" fill="#ffdd00"/>
<polygon points="1109.9,173 1124.4,173 1125.8,188 1111.1,188" fill="#a8ff00"/>
<polygon points="890.9,188 1125.8,188 1127.1,203 889.6,203" fill="#a8ff00"/>
<polygon points="905.6,188 1125.8,188 1127.1,203 904.5,203" fill="#ffdd00"/>
<polygon points="939.9,188 1125.8,188 1127.1,203 939.1,203" fill="#a8ff00"/>
<polygon points="951.3,188 1125.8,188 1127.1,203 950.6,203" fill="#ffdd00"/>
<polygon points="962.7,188 1125.8,188 1127.1,203 962.2,203" fill="#a8ff00"/>
<polygon points="985.5,188 1125.8,188 1127.1,203 985.3,203" fill="#2eff00"/>
<polygon points="1031.2,188 1125.8,188 1127.1,203 1031.4,203" fill="#a8ff00"/>
<polygon points="1065.4,188 1125.8,188 1127.1,203 1066.1,203" fill="#2eff00"/>
<polygon points="1076.8,188 1125.8,188 1127.1,203 1077.6,203" fill="#2bffb0"/>
<polygon points="1088.2,188 1125.8,188 1127.1,203 1089.2,203" fill="#ffdd00"/>
<polygon points="889.6,203 1127.1,203 1128.5,219 888.2,219" fill="#a8ff00"/>
<polygon points="904.5,203 1127.1,203 1128.5,219 903.2,219" fill="#ffdd00"/>
<polygon points="927.6,203 1127.1,203 1128.5,219 926.6,219" fill="#2eff00"/>
<polygon points="950.6,203 1127.1,203 1128.5,219 950.0,219" fill="#a8ff00"/>
<polygon points="1077.6,203 1127.1,203 1128.5,219 1078.5,219" fill="#2eff00"/>
<polygon points="1089.2,203 1127.1,203 1128.5,219 1090.1,219" fill="#ff6a08"/>
<polygon points="1100.7,203 1127.1,203 1128.5,219 1101.8,219" fill="#ffdd00"/>
<polygon points="1112.2,203 1127.1,203 1128.5,219 1113.5,219" fill="#a8ff00"/>
<polygon points="888.2,219 1128.5,219 1129.9,234 886.9,234" fill="#a8ff00"/>
<polygon points="926.6,219 1128.5,219 1129.9,234 925.7,234" fill="#2eff00"/>
<polygon points="938.3,219 1128.5,219 1129.9,234 937.5,234" fill="#a8ff00"/>
<polygon points="973.3,219 1128.5,219 1129.9,234 972.9,234" fill="#ffdd00"/>
<polygon points="1043.4,219 1128.5,219 1129.9,234 1043.8,234" fill="#a8ff00"/>
<polygon points="1078.5,219 1128.5,219 1129.9,234 1079.2,234" fill="#2eff00"/>
<polygon points="1090.1,219 1128.5,219 1129.9,234 1091.1,234" fill="#ffdd00"/>
<polygon points="1113.5,219 1128.5,219 1129.9,234 1114.7,234" fill="#a8ff00"/>
<polygon points="886.9,234 1129.9,234 1131.2,249 885.5,249" fill="#2eff00"/>
<polygon points="902.1,234 1129.9,234 1131.2,249 900.9,249" fill="#a8ff00"/>
<polygon points="913.9,234 1129.9,234 1131.2,249 912.8,249" fill="#2eff00"/>
<polygon points="937.5,234 1129.9,234 1131.2,249 936.7,249" fill="#a8ff00"/>
<polygon points="961.1,234 1129.9,234 1131.2,249 960.6,249" fill="#ffdd00"/>
<polygon points="1043.8,234 1129.9,234 1131.2,249 1044.2,249" fill="#a8ff00"/>
<polygon points="1079.2,234 1129.9,234 1131.2,249 1080.0,249" fill="#2eff00"/>
<polygon points="1091.1,234 1129.9,234 1131.2,249 1092.0,249" fill="#ffdd00"/>
<polygon points="1114.7,234 1129.9,234 1131.2,249 1115.9,249" fill="#a8ff00"/>
<polygon points="885.5,249 1131.2,249 1132.6,265 884.1,265" fill="#2eff00"/>
<polygon points="900.9,249 1131.2,249 1132.6,265 899.6,265" fill="#a8ff00"/>
<polygon points="912.8,249 1131.2,249 1132.6,265 911.7,265" fill="#2eff00"/>
<polygon points="924.8,249 1131.2,249 1132.6,265 923.8,265" fill="#a8ff00"/>
<polygon points="960.6,249 1131.2,249 1132.6,265 960.0,265" fill="#ffdd00"/>
<polygon points="1044.2,249 1131.2,249 1132.6,265 1044.6,265" fill="#a8ff00"/>
<polygon points="1080.0,249 1131.2,249 1132.6,265 1080.9,265" fill="#2eff00"/>
<polygon points="1092.0,249 1131.2,249 1132.6,265 1092.9,265" fill="#ffdd00"/>
<polygon points="1103.9,249 1131.2,249 1132.6,265 1105.0,265" fill="#a8ff00"/>
<polygon points="884.1,265 1132.6,265 1134.0,280 882.8,280" fill="#2eff00"/>
<polygon points="899.6,265 1132.6,265 1134.0,280 898.5,280" fill="#a8ff00"/>
<polygon points="911.7,265 1132.6,265 1134.0,280 910.7,280" fill="#2eff00"/>
<polygon points="923.8,265 1132.6,265 1134.0,280 922.9,280" fill="#a8ff00"/>
<polygon points="1056.7,265 1132.6,265 1134.0,280 1057.2,280" fill="#2eff00"/>
<polygon points="1092.9,265 1132.6,265 1134.0,280 1093.9,280" fill="#a8ff00"/>
<polygon points="1105.0,265 1132.6,265 1134.0,280 1106.1,280" fill="#ffdd00"/>
<polygon points="1117.1,265 1132.6,265 1134.0,280 1118.3,280" fill="#a8ff00"/>
<polygon points="882.8,280 1134.0,280 1135.3,295 881.4,295" fill="#2eff00"/>
<polygon points="1045.0,280 1134.0,280 1135.3,295 1045.4,295" fill="#2bffb0"/>
<polygon points="1081.7,280 1134.0,280 1135.3,295 1082.4,295" fill="#2eff00"/>
<polygon points="1093.9,280 1134.0,280 1135.3,295 1094.8,295" fill="#a8ff00"/>
<polygon points="1106.1,280 1134.0,280 1135.3,295 1107.1,295" fill="#2eff00"/>
<polygon points="1118.3,280 1134.0,280 1135.3,295 1119.5,295" fill="#a8ff00"/>
<polygon points="881.4,295 1135.3,295 1136.6,310 880.2,310" fill="#2eff00"/>
<polygon points="934.3,295 1135.3,295 1136.6,310 933.6,310" fill="#2bffb0"/>
<polygon points="946.7,295 1135.3,295 1136.6,310 946.1,310" fill="#00c8e0"/>
<polygon points="1070.1,295 1135.3,295 1136.6,310 1070.7,310" fill="#2bffb0"/>
<polygon points="1082.4,295 1135.3,295 1136.6,310 1083.2,310" fill="#2eff00"/>
<polygon points="880.2,310 1136.6,310 1137.7,325 879.1,325" fill="#2bffb0"/>
<polygon points="958.5,310 1136.6,310 1137.7,325 958.1,325" fill="#00c8e0"/>
<polygon points="971.0,310 1136.6,310 1137.7,325 970.7,325" fill="#1a78ff"/>
<polygon points="1045.8,310 1136.6,310 1137.7,325 1046.1,325" fill="#00c8e0"/>
<polygon points="1058.2,310 1136.6,310 1137.7,325 1058.7,325" fill="#2bffb0"/>
<polygon points="1095.6,310 1136.6,310 1137.7,325 1096.4,325" fill="#2eff00"/>
<polygon points="879.1,325 1137.7,325 1138.9,340 877.9,340" fill="#2bffb0"/>
<polygon points="895.2,325 1137.7,325 1138.9,340 894.2,340" fill="#2eff00"/>
<polygon points="920.4,325 1137.7,325 1138.9,340 919.6,340" fill="#2bffb0"/>
<polygon points="945.5,325 1137.7,325 1138.9,340 945.0,340" fill="#00c8e0"/>
<polygon points="983.2,325 1137.7,325 1138.9,340 983.0,340" fill="#1a78ff"/>
<polygon points="1033.5,325 1137.7,325 1138.9,340 1033.8,340" fill="#00c8e0"/>
<polygon points="1083.8,325 1137.7,325 1138.9,340 1084.5,340" fill="#2bffb0"/>
<polygon points="1121.6,325 1137.7,325 1138.9,340 1122.6,340" fill="#2eff00"/>
<polygon points="877.9,340 1138.9,340 1140.0,354 876.8,354" fill="#2eff00"/>
<polygon points="894.2,340 1138.9,340 1140.0,354 893.3,354" fill="#a8ff00"/>
<polygon points="906.9,340 1138.9,340 1140.0,354 906.1,354" fill="#2eff00"/>
<polygon points="945.0,340 1138.9,340 1140.0,354 944.4,354" fill="#2bffb0"/>
<polygon points="957.7,340 1138.9,340 1140.0,354 957.2,354" fill="#00c8e0"/>
<polygon points="983.0,340 1138.9,340 1140.0,354 982.8,354" fill="#1a78ff"/>
<polygon points="1046.5,340 1138.9,340 1140.0,354 1046.8,354" fill="#00c8e0"/>
<polygon points="1071.8,340 1138.9,340 1140.0,354 1072.4,354" fill="#2bffb0"/>
<polygon points="1084.5,340 1138.9,340 1140.0,354 1085.2,354" fill="#2eff00"/>
<polygon points="876.8,354 1140.0,354 1141.2,369 875.6,369" fill="#2eff00"/>
<polygon points="893.3,354 1140.0,354 1141.2,369 892.2,369" fill="#a8ff00"/>
<polygon points="918.9,354 1140.0,354 1141.2,369 918.1,369" fill="#2eff00"/>
<polygon points="957.2,354 1140.0,354 1141.2,369 956.8,369" fill="#2bffb0"/>
<polygon points="970.0,354 1140.0,354 1141.2,369 969.7,369" fill="#00c8e0"/>
<polygon points="1046.8,354 1140.0,354 1141.2,369 1047.1,369" fill="#2bffb0"/>
<polygon points="1072.4,354 1140.0,354 1141.2,369 1072.9,369" fill="#2eff00"/>
<polygon points="875.6,369 1141.2,369 1142.4,384 874.4,384" fill="#2eff00"/>
<polygon points="892.2,369 1141.2,369 1142.4,384 891.2,384" fill="#a8ff00"/>
<polygon points="943.9,369 1141.2,369 1142.4,384 943.3,384" fill="#2eff00"/>
<polygon points="969.7,369 1141.2,369 1142.4,384 969.3,384" fill="#2bffb0"/>
<polygon points="1008.4,369 1141.2,369 1142.4,384 1008.4,384" fill="#00c8e0"/>
<polygon points="1034.2,369 1141.2,369 1142.4,384 1034.5,384" fill="#2bffb0"/>
<polygon points="1060.0,369 1141.2,369 1142.4,384 1060.5,384" fill="#2eff00"/>
<polygon points="1085.9,369 1141.2,369 1142.4,384 1086.6,384" fill="#a8ff00"/>
<polygon points="1111.7,369 1141.2,369 1142.4,384 1112.6,384" fill="#2eff00"/>
<polygon points="874.4,384 1142.4,384 1143.7,400 873.1,400" fill="#2eff00"/>
<polygon points="891.2,384 1142.4,384 1143.7,400 890.1,400" fill="#a8ff00"/>
<polygon points="943.3,384 1142.4,384 1143.7,400 942.7,400" fill="#2eff00"/>
<polygon points="982.4,384 1142.4,384 1143.7,400 982.1,400" fill="#2bffb0"/>
<polygon points="995.4,384 1142.4,384 1143.7,400 995.3,400" fill="#2eff00"/>
<polygon points="1086.6,384 1142.4,384 1143.7,400 1087.3,400" fill="#a8ff00"/>
<polygon points="1125.6,384 1142.4,384 1143.7,400 1126.8,400" fill="#2eff00"/>
<polygon points="873.1,400 1143.7,400 1144.9,415 871.9,415" fill="#2eff00"/>
<polygon points="890.1,400 1143.7,400 1144.9,415 889.0,415" fill="#a8ff00"/>
<polygon points="929.5,400 1143.7,400 1144.9,415 928.8,415" fill="#2eff00"/>
<polygon points="955.8,400 1143.7,400 1144.9,415 955.3,415" fill="#a8ff00"/>
<polygon points="969.0,400 1143.7,400 1144.9,415 968.6,415" fill="#2eff00"/>
<polygon points="1087.3,400 1143.7,400 1144.9,415 1088.0,415" fill="#a8ff00"/>
<polygon points="1126.8,400 1143.7,400 1144.9,415 1127.9,415" fill="#2eff00"/>
<polygon points="871.9,415 1144.9,415 1146.2,430 870.6,430" fill="#2eff00"/>
<polygon points="902.3,415 1144.9,415 1146.2,430 901.3,430" fill="#a8ff00"/>
<polygon points="928.8,415 1144.9,415 1146.2,430 928.1,430" fill="#ffdd00"/>
<polygon points="942.1,415 1144.9,415 1146.2,430 941.5,430" fill="#a8ff00"/>
<polygon points="968.6,415 1144.9,415 1146.2,430 968.3,430" fill="#2bffb0"/>
<polygon points="981.9,415 1144.9,415 1146.2,430 981.6,430" fill="#2eff00"/>
<polygon points="995.2,415 1144.9,415 1146.2,430 995.0,430" fill="#2bffb0"/>
<polygon points="1074.8,415 1144.9,415 1146.2,430 1075.4,430" fill="#a8ff00"/>
<polygon points="1088.0,415 1144.9,415 1146.2,430 1088.8,430" fill="#2eff00"/>
<polygon points="1101.3,415 1144.9,415 1146.2,430 1102.2,430" fill="#a8ff00"/>
<polygon points="1127.9,415 1144.9,415 1146.2,430 1129.0,430" fill="#2eff00"/>
<polygon points="870.6,430 1146.2,430 1147.6,446 869.3,446" fill="#2eff00"/>
<polygon points="901.3,430 1146.2,430 1147.6,446 900.2,446" fill="#a8ff00"/>
<polygon points="941.5,430 1146.2,430 1147.6,446 940.8,446" fill="#ffdd00"/>
<polygon points="954.9,430 1146.2,430 1147.6,446 954.3,446" fill="#2bffb0"/>
<polygon points="1075.4,430 1146.2,430 1147.6,446 1076.1,446" fill="#00c8e0"/>
<polygon points="1088.8,430 1146.2,430 1147.6,446 1089.6,446" fill="#ffdd00"/>
<polygon points="1102.2,430 1146.2,430 1147.6,446 1103.1,446" fill="#a8ff00"/>
<polygon points="1115.6,430 1146.2,430 1147.6,446 1116.6,446" fill="#2eff00"/>
<polygon points="869.3,446 1147.6,446 1148.9,461 868.0,461" fill="#2bffb0"/>
<polygon points="886.7,446 1147.6,446 1148.9,461 885.6,461" fill="#2eff00"/>
<polygon points="900.2,446 1147.6,446 1148.9,461 899.2,461" fill="#a8ff00"/>
<polygon points="927.3,446 1147.6,446 1148.9,461 926.5,461" fill="#ffdd00"/>
<polygon points="940.8,446 1147.6,446 1148.9,461 940.2,461" fill="#2bffb0"/>
<polygon points="1089.6,446 1147.6,446 1148.9,461 1090.3,461" fill="#a8ff00"/>
<polygon points="1116.6,446 1147.6,446 1148.9,461 1117.6,461" fill="#2eff00"/>
<polygon points="1130.1,446 1147.6,446 1148.9,461 1131.3,461" fill="#2bffb0"/>
<polygon points="868.0,461 1148.9,461 1150.3,477 866.6,477" fill="#2bffb0"/>
<polygon points="885.6,461 1148.9,461 1150.3,477 884.4,477" fill="#2eff00"/>
<polygon points="912.9,461 1148.9,461 1150.3,477 911.9,477" fill="#a8ff00"/>
<polygon points="926.5,461 1148.9,461 1150.3,477 925.7,477" fill="#00c8e0"/>
<polygon points="940.2,461 1148.9,461 1150.3,477 939.5,477" fill="#2bffb0"/>
<polygon points="1063.0,461 1148.9,461 1150.3,477 1063.6,477" fill="#00c8e0"/>
<polygon points="1076.7,461 1148.9,461 1150.3,477 1077.4,477" fill="#2bffb0"/>
<polygon points="1104.0,461 1148.9,461 1150.3,477 1105.0,477" fill="#a8ff00"/>
<polygon points="1117.6,461 1148.9,461 1150.3,477 1118.7,477" fill="#2eff00"/>
<polygon points="1131.3,461 1148.9,461 1150.3,477 1132.5,477" fill="#2bffb0"/>
<polygon points="866.6,477 1150.3,477 1151.7,492 865.2,492" fill="#2bffb0"/>
<polygon points="898.1,477 1150.3,477 1151.7,492 897.1,492" fill="#2eff00"/>
<polygon points="911.9,477 1150.3,477 1151.7,492 911.0,492" fill="#00c8e0"/>
<polygon points="1091.2,477 1150.3,477 1151.7,492 1092.0,492" fill="#2bffb0"/>
<polygon points="1105.0,477 1150.3,477 1151.7,492 1105.9,492" fill="#2eff00"/>
<polygon points="1132.5,477 1150.3,477 1151.7,492 1133.7,492" fill="#2bffb0"/>
<polygon points="865.2,492 1151.7,492 1153.1,508 863.8,508" fill="#2bffb0"/>
<polygon points="911.0,492 1151.7,492 1153.1,508 910.0,508" fill="#00c8e0"/>
<polygon points="952.8,492 1151.7,492 1153.1,508 952.2,508" fill="#1a78ff"/>
<polygon points="1036.3,492 1151.7,492 1153.1,508 1036.6,508" fill="#00c8e0"/>
<polygon points="1105.9,492 1151.7,492 1153.1,508 1106.9,508" fill="#2bffb0"/>
<polygon points="1133.7,492 1151.7,492 1153.1,508 1135.0,508" fill="#00c8e0"/>
<polygon points="863.8,508 1153.1,508 1154.5,523 862.4,523" fill="#00c8e0"/>
<polygon points="881.9,508 1153.1,508 1154.5,523 880.7,523" fill="#2bffb0"/>
<polygon points="910.0,508 1153.1,508 1154.5,523 909.1,523" fill="#00c8e0"/>
<polygon points="924.1,508 1153.1,508 1154.5,523 923.3,523" fill="#1a78ff"/>
<polygon points="1050.6,508 1153.1,508 1154.5,523 1051.0,523" fill="#00c8e0"/>
<polygon points="1106.9,508 1153.1,508 1154.5,523 1107.8,523" fill="#2bffb0"/>
<polygon points="1135.0,508 1153.1,508 1154.5,523 1136.2,523" fill="#00c8e0"/>
<polygon points="862.4,523 1154.5,523 1156.0,538 861.0,538" fill="#00c8e0"/>
<polygon points="894.9,523 1154.5,523 1156.0,538 893.8,538" fill="#2bffb0"/>
<polygon points="909.1,523 1154.5,523 1156.0,538 908.1,538" fill="#00c8e0"/>
<polygon points="951.7,523 1154.5,523 1156.0,538 951.1,538" fill="#1a78ff"/>
<polygon points="965.9,523 1154.5,523 1156.0,538 965.5,538" fill="#00c8e0"/>
<polygon points="1107.8,523 1154.5,523 1156.0,538 1108.8,538" fill="#2bffb0"/>
<polygon points="1136.2,523 1154.5,523 1156.0,538 1137.5,538" fill="#00c8e0"/>
<polygon points="861.0,538 1156.0,538 1157.5,554 859.4,554" fill="#1a78ff"/>
<polygon points="879.5,538 1156.0,538 1157.5,554 878.1,554" fill="#00c8e0"/>
<polygon points="893.8,538 1156.0,538 1157.5,554 892.6,554" fill="#2bffb0"/>
<polygon points="908.1,538 1156.0,538 1157.5,554 907.1,554" fill="#00c8e0"/>
<polygon points="1080.1,538 1156.0,538 1157.5,554 1080.9,554" fill="#2bffb0"/>
<polygon points="1123.1,538 1156.0,538 1157.5,554 1124.3,554" fill="#00c8e0"/>
<polygon points="859.4,554 1157.5,554 1159.0,569 858.0,569" fill="#1a78ff"/>
<polygon points="878.1,554 1157.5,554 1159.0,569 876.9,569" fill="#00c8e0"/>
<polygon points="907.1,554 1157.5,554 1159.0,569 906.1,569" fill="#2bffb0"/>
<polygon points="1095.4,554 1157.5,554 1159.0,569 1096.2,569" fill="#00c8e0"/>
<polygon points="1138.8,554 1157.5,554 1159.0,569 1140.1,569" fill="#1a78ff"/>
<polygon points="858.0,569 1159.0,569 1160.6,585 856.4,585" fill="#1a78ff"/>
<polygon points="891.5,569 1159.0,569 1160.6,585 890.3,585" fill="#00c8e0"/>
<polygon points="935.4,569 1159.0,569 1160.6,585 934.6,585" fill="#1a78ff"/>
<polygon points="1081.6,569 1159.0,569 1160.6,585 1082.4,585" fill="#00c8e0"/>
<polygon points="1125.5,569 1159.0,569 1160.6,585 1126.7,585" fill="#1a78ff"/>
<polygon points="856.4,585 1160.6,585 1162.0,600 854.9,600" fill="#1a78ff"/>
<polygon points="905.1,585 1160.6,585 1162.0,600 904.1,600" fill="#00c8e0"/>
<polygon points="934.6,585 1160.6,585 1162.0,600 933.9,600" fill="#1a78ff"/>
<polygon points="854.9,600 1162.0,600 1163.6,615 853.4,615" fill="#1a78ff"/>
<polygon points="853.4,615 1163.6,615 1165.3,632 851.7,632" fill="#1a78ff"/>
<polygon points="948.2,615 1163.6,615 1165.3,632 947.6,632" fill="#2bffb0"/>
<polygon points="963.3,615 1163.6,615 1165.3,632 962.8,632" fill="#00c8e0"/>
<polygon points="1068.7,615 1163.6,615 1165.3,632 1069.4,632" fill="#2bffb0"/>
<polygon points="1098.9,615 1163.6,615 1165.3,632 1099.9,632" fill="#1a78ff"/>
<polygon points="851.7,632 1165.3,632 1166.8,646.7 850.2,646.7" fill="#0000c4"/>
<polygon points="886.7,632 1165.3,632 1166.8,646.7 885.5,646.7" fill="#1a78ff"/>
<polygon points="932.4,632 1165.3,632 1166.8,646.7 931.6,646.7" fill="#2bffb0"/>
<polygon points="947.6,632 1165.3,632 1166.8,646.7 947.0,646.7" fill="#00c8e0"/>
<polygon points="1084.6,632 1165.3,632 1166.8,646.7 1085.4,646.7" fill="#2bffb0"/>
<polygon points="1115.1,632 1165.3,632 1166.8,646.7 1116.1,646.7" fill="#0000c4"/></g>
<g class="ns"><polygon points="907.2,45.0 906.2,56.6 905.2,68.2 904.2,79.8 903.1,91.3 902.1,102.9 901.1,114.5 900.0,126.1 899.0,137.7 898.0,149.2 897.0,160.8 895.9,172.4 894.9,184.0 893.9,195.6 892.8,207.2 891.8,218.8 890.8,230.3 889.8,241.9 888.7,253.5 887.7,265.1 886.7,276.7 885.6,288.2 884.6,299.8 883.7,311.4 882.8,323.0 882.8,323.0 880.8,311.4 878.9,299.8 877.4,288.2 876.0,276.7 874.5,265.1 873.1,253.5 873.3,241.9 873.9,230.3 875.3,218.8 876.7,207.2 878.5,195.6 880.6,184.0 882.9,172.4 885.6,160.8 888.4,149.2 891.1,137.7 893.5,126.1 896.0,114.5 898.3,102.9 900.5,91.3 902.7,79.8 904.2,68.2 905.7,56.6 907.2,45.0" fill="#0f6a5c" opacity="1"/>
<polygon points="905.9,60.0 904.9,71.0 904.0,81.9 903.0,92.9 902.0,103.8 901.0,114.8 900.1,125.8 899.1,136.7 898.1,147.7 897.2,158.6 896.2,169.6 895.2,180.5 894.2,191.5 893.3,202.5 892.3,213.4 891.3,224.4 890.3,235.3 889.4,246.3 888.4,257.2 887.4,268.2 886.4,279.2 885.5,290.1 884.5,301.1 883.7,312.0 882.8,323.0 882.8,323.0 881.6,312.0 880.4,301.1 879.6,290.1 878.9,279.2 878.1,268.2 877.2,257.2 877.3,246.3 877.6,235.3 878.8,224.4 880.0,213.4 881.4,202.5 882.9,191.5 884.7,180.5 886.7,169.6 888.9,158.6 891.1,147.7 893.2,136.7 895.2,125.8 897.2,114.8 899.1,103.8 900.9,92.9 902.7,81.9 904.1,71.0 905.4,60.0" fill="#3a8a22" opacity="1"/>
<polygon points="899.7,130.0 899.0,137.6 898.3,145.2 897.7,152.8 897.0,160.3 896.3,167.9 895.7,175.5 895.0,183.1 894.3,190.7 893.6,198.2 893.0,205.8 892.3,213.4 891.6,221.0 890.9,228.6 890.3,236.2 889.6,243.8 888.9,251.3 888.2,258.9 887.6,266.5 886.9,274.1 886.2,281.7 885.6,289.2 884.9,296.8 884.3,304.4 883.7,312.0 882.7,312.0 882.6,304.4 882.6,296.8 882.7,289.2 882.8,281.7 882.9,274.1 882.9,266.5 883.0,258.9 883.2,251.3 883.7,243.8 884.2,236.2 884.9,228.6 885.6,221.0 886.4,213.4 887.2,205.8 888.0,198.2 888.9,190.7 889.9,183.1 890.8,175.5 891.9,167.9 892.9,160.3 894.0,152.8 895.1,145.2 896.2,137.6 897.2,130.0" fill="#a04a14" opacity="1"/>
<polygon points="1111.6,70.0 1112.5,80.5 1113.4,91.1 1114.4,101.6 1115.3,112.2 1116.2,122.7 1117.1,133.2 1118.0,143.8 1118.9,154.3 1119.9,164.9 1120.8,175.4 1121.7,186.0 1122.6,196.5 1123.5,207.0 1124.5,217.6 1125.4,228.1 1126.4,238.7 1127.3,249.2 1128.3,259.8 1129.3,270.3 1130.3,280.8 1131.3,291.4 1132.2,301.9 1133.1,312.5 1134.0,323.0 1134.0,323.0 1135.8,312.5 1137.6,301.9 1139.0,291.4 1140.2,280.8 1141.5,270.3 1143.0,259.8 1143.6,249.2 1143.4,238.7 1142.6,228.1 1141.3,217.6 1140.0,207.0 1138.3,196.5 1136.5,186.0 1134.4,175.4 1132.0,164.9 1129.5,154.3 1127.0,143.8 1124.7,133.2 1122.4,122.7 1120.1,112.2 1118.1,101.6 1116.1,91.1 1114.1,80.5 1112.7,70.0" fill="#0b2680" opacity="1"/>
<polygon points="1136.4,200.0 1137.1,205.1 1137.8,210.2 1138.4,215.4 1139.0,220.5 1139.6,225.6 1140.2,230.8 1140.7,235.9 1140.8,241.0 1140.9,246.1 1141.1,251.2 1141.0,256.4 1140.5,261.5 1140.0,266.6 1139.4,271.8 1139.0,276.9 1138.6,282.0 1138.1,287.1 1137.7,292.2 1137.3,297.4 1136.6,302.5 1136.0,307.6 1135.3,312.8 1134.6,317.9 1134.0,323.0 1134.0,323.0 1134.8,317.9 1135.7,312.8 1136.6,307.6 1137.5,302.5 1138.3,297.4 1138.9,292.2 1139.5,287.1 1140.1,282.0 1140.7,276.9 1141.3,271.8 1142.0,266.6 1142.7,261.5 1143.5,256.4 1143.6,251.2 1143.5,246.1 1143.4,241.0 1143.4,235.9 1142.9,230.8 1142.3,225.6 1141.7,220.5 1141.1,215.4 1140.5,210.2 1139.7,205.1 1138.9,200.0" fill="#1f5a2a" opacity="1"/>
<polygon points="1114.2,100.0 1115.0,109.3 1115.8,118.6 1116.6,127.9 1117.5,137.2 1118.3,146.5 1119.1,155.8 1119.9,165.0 1120.7,174.3 1121.5,183.6 1122.3,192.9 1123.1,202.2 1123.9,211.5 1124.8,220.8 1125.6,230.1 1126.4,239.4 1127.3,248.7 1128.1,258.0 1129.0,267.2 1129.9,276.5 1130.7,285.8 1131.6,295.1 1132.4,304.4 1133.2,313.7 1134.0,323.0 1134.0,323.0 1134.3,313.7 1134.6,304.4 1134.8,295.1 1134.8,285.8 1134.9,276.5 1134.9,267.2 1135.1,258.0 1134.8,248.7 1134.3,239.4 1133.5,230.1 1132.6,220.8 1131.6,211.5 1130.5,202.2 1129.4,192.9 1128.2,183.6 1126.9,174.3 1125.5,165.0 1124.0,155.8 1122.6,146.5 1121.2,137.2 1119.8,127.9 1118.5,118.6 1117.1,109.3 1115.9,100.0" fill="#0e6878" opacity="1"/>
<polygon points="1120.3,170.0 1120.8,176.4 1121.4,182.8 1122.0,189.1 1122.5,195.5 1123.1,201.9 1123.6,208.2 1124.2,214.6 1124.8,221.0 1125.3,227.4 1125.9,233.8 1126.5,240.1 1127.1,246.5 1127.6,252.9 1128.2,259.2 1128.8,265.6 1129.4,272.0 1130.0,278.4 1130.6,284.8 1131.2,291.1 1131.8,297.5 1132.4,303.9 1132.9,310.2 1133.4,316.6 1134.0,323.0 1134.0,323.0 1133.6,316.6 1133.3,310.2 1133.0,303.9 1132.6,297.5 1132.1,291.1 1131.7,284.8 1131.3,278.4 1130.8,272.0 1130.4,265.6 1130.0,259.2 1129.5,252.9 1129.0,246.5 1128.5,240.1 1127.9,233.8 1127.4,227.4 1126.8,221.0 1126.2,214.6 1125.6,208.2 1125.0,201.9 1124.4,195.5 1123.7,189.1 1123.1,182.8 1122.5,176.4 1121.8,170.0" fill="#2d8c2a" opacity="1"/>
<polygon points="1128.5,262.0 1128.7,264.5 1129.0,267.1 1129.2,269.6 1129.5,272.2 1129.7,274.7 1129.9,277.2 1130.2,279.8 1130.4,282.3 1130.6,284.9 1130.9,287.4 1131.1,290.0 1131.4,292.5 1131.6,295.0 1131.8,297.6 1132.1,300.1 1132.3,302.7 1132.5,305.2 1132.7,307.8 1132.9,310.3 1133.1,312.8 1133.3,315.4 1133.5,317.9 1133.8,320.5 1134.0,323.0 1134.0,323.0 1134.1,320.5 1134.2,317.9 1134.3,315.4 1134.4,312.8 1134.6,310.3 1134.7,307.8 1134.8,305.2 1134.9,302.7 1135.0,300.1 1135.1,297.6 1135.1,295.0 1135.2,292.5 1135.2,290.0 1135.2,287.4 1135.3,284.9 1135.3,282.3 1135.4,279.8 1135.4,277.2 1135.4,274.7 1135.5,272.2 1135.5,269.6 1135.6,267.1 1135.7,264.5 1135.7,262.0" fill="#35801f" opacity="1"/>
<polygon points="1140.8,225.0 1141.2,227.9 1141.5,230.8 1141.9,233.8 1142.0,236.7 1142.1,239.6 1142.2,242.5 1142.2,245.4 1142.3,248.3 1142.3,251.2 1142.4,254.2 1142.2,257.1 1141.8,260.0 1141.4,262.9 1141.1,265.8 1140.7,268.8 1140.4,271.7 1140.1,274.6 1139.8,277.5 1139.5,280.4 1139.2,283.3 1138.9,286.2 1138.6,289.2 1138.3,292.1 1138.0,295.0 1138.6,295.0 1138.9,292.1 1139.2,289.2 1139.6,286.2 1139.9,283.3 1140.3,280.4 1140.6,277.5 1141.0,274.6 1141.3,271.7 1141.7,268.8 1142.1,265.8 1142.5,262.9 1142.9,260.0 1143.4,257.1 1143.6,254.2 1143.6,251.2 1143.6,248.3 1143.5,245.4 1143.5,242.5 1143.4,239.6 1143.4,236.7 1143.2,233.8 1142.9,230.8 1142.5,227.9 1142.2,225.0" fill="#8a4a10" opacity="1"/></g>
</g>
<g filter="url(#bl)">
<rect x="8.3" y="60.00" width="10" height="18.97" fill="#ff0000"/>
<rect x="8.3" y="78.67" width="10" height="18.97" fill="#ff6a08"/>
<rect x="8.3" y="97.34" width="10" height="18.97" fill="#ffdd00"/>
<rect x="8.3" y="116.01" width="10" height="18.97" fill="#a8ff00"/>
<rect x="8.3" y="134.68" width="10" height="18.97" fill="#2eff00"/>
<rect x="8.3" y="153.35" width="10" height="18.97" fill="#2bffb0"/>
<rect x="8.3" y="172.02" width="10" height="18.97" fill="#00c8e0"/>
<rect x="8.3" y="190.69" width="10" height="18.97" fill="#1a78ff"/>
<rect x="8.3" y="209.36" width="10" height="18.97" fill="#0000c4"/>
<rect x="8.2" y="59.20" width="18.3" height="1.6" fill="#1c1c1c" opacity="0.72"/>
<text x="29.3" y="64.30" class="lg">1.333E+00</text>
<rect x="8.2" y="77.87" width="18.3" height="1.6" fill="#1c1c1c" opacity="0.72"/>
<text x="29.3" y="82.97" class="lg">1.200E+00</text>
<rect x="8.2" y="96.54" width="18.3" height="1.6" fill="#1c1c1c" opacity="0.72"/>
<text x="29.3" y="101.64" class="lg">1.067E+00</text>
<rect x="8.2" y="115.21" width="18.3" height="1.6" fill="#1c1c1c" opacity="0.72"/>
<text x="29.3" y="120.31" class="lg" textLength="53">9.348E-01</text>
<rect x="8.2" y="133.88" width="18.3" height="1.6" fill="#1c1c1c" opacity="0.72"/>
<text x="29.3" y="138.98" class="lg" textLength="53">8.022E-01</text>
<rect x="8.2" y="152.55" width="18.3" height="1.6" fill="#1c1c1c" opacity="0.72"/>
<text x="29.3" y="157.65" class="lg" textLength="53">6.697E-01</text>
<rect x="8.2" y="171.22" width="18.3" height="1.6" fill="#1c1c1c" opacity="0.72"/>
<text x="29.3" y="176.32" class="lg" textLength="53">5.371E-01</text>
<rect x="8.2" y="189.89" width="18.3" height="1.6" fill="#1c1c1c" opacity="0.72"/>
<text x="29.3" y="194.99" class="lg" textLength="53">4.045E-01</text>
<rect x="8.2" y="208.56" width="18.3" height="1.6" fill="#1c1c1c" opacity="0.72"/>
<text x="29.3" y="213.66" class="lg" textLength="53">2.719E-01</text>
<rect x="8.2" y="227.23" width="18.3" height="1.6" fill="#1c1c1c" opacity="0.72"/>
<text x="29.3" y="232.33" class="lg" textLength="53">1.393E-01</text>
<text x="9" y="20" class="tt">Contour Plot</text>
<text x="9" y="35" class="tt" textLength="146.5">Stress(vonMises, Average)</text>
<text x="9" y="49.5" class="tt" textLength="91.3">Analysis system</text>
<rect x="678.3" y="60.00" width="10" height="18.97" fill="#ff0000"/>
<rect x="678.3" y="78.67" width="10" height="18.97" fill="#ff6a08"/>
<rect x="678.3" y="97.34" width="10" height="18.97" fill="#ffdd00"/>
<rect x="678.3" y="116.01" width="10" height="18.97" fill="#a8ff00"/>
<rect x="678.3" y="134.68" width="10" height="18.97" fill="#2eff00"/>
<rect x="678.3" y="153.35" width="10" height="18.97" fill="#2bffb0"/>
<rect x="678.3" y="172.02" width="10" height="18.97" fill="#00c8e0"/>
<rect x="678.3" y="190.69" width="10" height="18.97" fill="#1a78ff"/>
<rect x="678.3" y="209.36" width="10" height="18.97" fill="#0000c4"/>
<rect x="678.2" y="59.20" width="18.3" height="1.6" fill="#1c1c1c" opacity="0.72"/>
<text x="699.3" y="64.30" class="lg">1.335E+00</text>
<rect x="678.2" y="77.87" width="18.3" height="1.6" fill="#1c1c1c" opacity="0.72"/>
<text x="699.3" y="82.97" class="lg">1.200E+00</text>
<rect x="678.2" y="96.54" width="18.3" height="1.6" fill="#1c1c1c" opacity="0.72"/>
<text x="699.3" y="101.64" class="lg">1.065E+00</text>
<rect x="678.2" y="115.21" width="18.3" height="1.6" fill="#1c1c1c" opacity="0.72"/>
<text x="699.3" y="120.31" class="lg" textLength="53">9.299E-01</text>
<rect x="678.2" y="133.88" width="18.3" height="1.6" fill="#1c1c1c" opacity="0.72"/>
<text x="699.3" y="138.98" class="lg" textLength="53">7.949E-01</text>
<rect x="678.2" y="152.55" width="18.3" height="1.6" fill="#1c1c1c" opacity="0.72"/>
<text x="699.3" y="157.65" class="lg" textLength="53">6.599E-01</text>
<rect x="678.2" y="171.22" width="18.3" height="1.6" fill="#1c1c1c" opacity="0.72"/>
<text x="699.3" y="176.32" class="lg" textLength="53">5.249E-01</text>
<rect x="678.2" y="189.89" width="18.3" height="1.6" fill="#1c1c1c" opacity="0.72"/>
<text x="699.3" y="194.99" class="lg" textLength="53">3.898E-01</text>
<rect x="678.2" y="208.56" width="18.3" height="1.6" fill="#1c1c1c" opacity="0.72"/>
<text x="699.3" y="213.66" class="lg" textLength="53">2.548E-01</text>
<rect x="678.2" y="227.23" width="18.3" height="1.6" fill="#1c1c1c" opacity="0.72"/>
<text x="699.3" y="232.33" class="lg" textLength="53">1.198E-01</text>
<text x="679" y="20" class="tt">Contour Plot</text>
<text x="679" y="35" class="tt" textLength="146.5">Stress(vonMises, Average)</text>
<text x="679" y="49.5" class="tt" textLength="91.3">Analysis system</text>
<g transform="translate(0,0)">
<rect x="101.9" y="601" width="4" height="40.2" fill="#1b6fc2"/>
<polygon points="103.9,589.8 111,604.5 103.9,602.8 96.8,604.5" fill="#1b6fc2"/>
<rect x="66" y="637.2" width="38" height="4" fill="#000"/>
<polygon points="53.5,639.2 68.5,632.6 66.8,639.2 68.5,645.8" fill="#000"/>
<text x="95.3" y="575.4" class="ax">z</text>
<text x="36.2" y="627.2" class="ax">x</text>
</g>
<g transform="translate(665.4,0)">
<rect x="101.9" y="601" width="4" height="40.2" fill="#1b6fc2"/>
<polygon points="103.9,589.8 111,604.5 103.9,602.8 96.8,604.5" fill="#1b6fc2"/>
<rect x="66" y="637.2" width="38" height="4" fill="#000"/>
<polygon points="53.5,639.2 68.5,632.6 66.8,639.2 68.5,645.8" fill="#000"/>
<text x="95.3" y="575.4" class="ax">z</text>
<text x="36.2" y="627.2" class="ax">x</text>
</g>
<text x="336.4" y="719.8" text-anchor="middle" class="cap">(a)</text>
<text x="1007" y="719.8" text-anchor="middle" class="cap">(b)</text>
</g>
</svg>
</body></html>
